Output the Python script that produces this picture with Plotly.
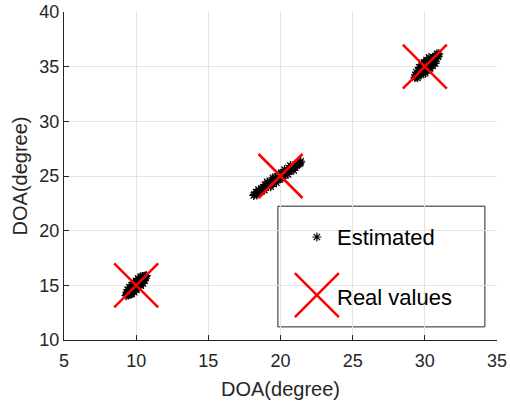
import plotly.graph_objects as go

# Estimated DOA pairs (x = DOA 1, y = DOA 2)
est1_x = [9.36, 9.46, 9.37, 9.58, 9.48, 9.57, 9.48, 9.70, 9.61, 9.82, 9.74, 9.69, 9.86, 9.83, 9.98,
          9.80, 9.99, 9.94, 10.08, 10.04, 9.98, 10.17, 10.11, 10.30, 10.15, 10.29, 10.19, 10.41, 10.35,
          10.51, 10.39, 10.52, 10.44, 10.62, 10.59, 10.66, 9.30, 9.42, 9.55, 9.62, 9.90, 10.22, 10.47,
          10.70, 9.75, 10.02, 10.25, 10.55,
          9.87, 9.53, 10.02, 9.68, 10.17, 9.83, 10.32, 9.98, 10.47, 10.13, 9.68, 9.42, 10.58, 10.32]
est1_y = [14.15, 14.12, 14.35, 14.16, 14.40, 14.37, 14.59, 14.40, 14.61, 14.44, 14.65, 14.81, 14.69,
          14.83, 14.72, 15.06, 14.90, 15.08, 14.89, 15.05, 15.23, 15.07, 15.25, 15.11, 15.40, 15.32,
          15.54, 15.35, 15.53, 15.42, 15.68, 15.60, 15.81, 15.67, 15.82, 15.82, 14.05, 14.22, 14.25,
          14.50, 14.95, 15.17, 15.55, 15.90, 14.52, 14.82, 15.45, 15.75,
          14.38, 14.82, 14.58, 15.02, 14.78, 15.22, 14.98, 15.42, 15.18, 15.62, 14.22, 14.58, 15.42, 15.78]

est2_x = [18.20, 18.36, 18.30, 18.47, 18.48, 18.65, 18.68, 18.88, 18.81, 18.97, 18.92, 19.16, 19.18,
          19.29, 19.29, 19.47, 19.50, 19.50, 19.68, 19.62, 19.85, 19.83, 20.02, 19.96, 20.12, 20.08,
          20.30, 20.33, 20.46, 20.45, 20.62, 20.57, 20.79, 20.83, 21.01, 21.01, 21.17, 21.22, 21.37,
          21.40, 18.15, 18.55, 19.05, 19.40, 19.95, 20.20, 20.70, 21.10, 21.30, 18.80,
          19.32, 19.08, 19.72, 19.48, 20.12, 19.88, 20.52, 20.28, 20.92, 20.68]
est2_y = [23.30, 23.27, 23.53, 23.48, 23.76, 23.58, 23.80, 23.71, 23.98, 23.97, 24.20, 24.04, 24.28,
          24.21, 24.50, 24.29, 24.52, 24.66, 24.60, 24.86, 24.71, 24.89, 24.81, 25.06, 25.05, 25.27,
          25.13, 25.35, 25.24, 25.55, 25.51, 25.75, 25.62, 25.84, 25.78, 26.05, 26.04, 26.22, 26.21,
          26.35, 23.22, 23.65, 24.10, 24.40, 24.95, 25.20, 25.65, 25.95, 26.10, 23.90,
          24.02, 24.46, 24.39, 24.83, 24.77, 25.21, 25.14, 25.58, 25.52, 25.96]

est3_x = [29.32, 29.48, 29.35, 29.53, 29.42, 29.73, 29.64, 29.89, 29.69, 29.90, 29.76, 30.06, 29.99,
          30.23, 30.06, 30.23, 30.11, 30.43, 30.34, 30.60, 30.40, 30.62, 30.57, 30.82, 30.74, 30.91,
          30.84, 30.97, 29.40, 29.60, 29.80, 29.95, 30.15, 30.30, 30.50, 30.70, 30.90, 29.55, 30.05, 30.65,
          30.03, 29.61, 30.20, 29.78, 30.37, 29.95, 30.54, 30.12, 30.71, 30.29]
est3_y = [34.00, 33.98, 34.23, 34.17, 34.49, 34.24, 34.51, 34.37, 34.73, 34.62, 34.97, 34.76, 35.01,
          34.86, 35.25, 35.14, 35.44, 35.21, 35.51, 35.32, 35.74, 35.62, 35.87, 35.70, 35.96, 35.92,
          36.18, 36.17, 34.10, 34.35, 34.55, 34.85, 35.00, 35.30, 35.50, 35.80, 36.05, 34.60, 35.35, 35.45,
          34.40, 34.94, 34.63, 35.17, 34.85, 35.39, 35.07, 35.61, 35.30, 35.84]

real_x = [10, 20, 30]
real_y = [15, 25, 35]

x_ticks = [5, 10, 15, 20, 25, 30, 35]
y_ticks = [10, 15, 20, 25, 30, 35, 40]

legend_labels = ["Estimated", "Real values"]

FONT = "Liberation Sans, Arial, Helvetica, sans-serif"
AX = "#262626"
STAR = dict(symbol="asterisk-open", size=7.5, color="black", line=dict(color="black", width=1.2))
CROSS = dict(symbol="x-thin-open", size=44, color="#ff0000", line=dict(color="#ff0000", width=2.5))

est_x = est1_x + est2_x + est3_x
est_y = est1_y + est2_y + est3_y

fig = go.Figure()
fig.add_trace(go.Scatter(x=est_x, y=est_y, mode="markers", name=legend_labels[0],
                         showlegend=False, marker=STAR))
fig.add_trace(go.Scatter(x=real_x, y=real_y, mode="markers", name=legend_labels[1],
                         showlegend=False, marker=CROSS))

# legend samples on an overlay axis spanning the plot area (0..1)
fig.add_trace(go.Scatter(x=[0.584], y=[0.314], mode="markers", showlegend=False,
                         xaxis="x2", yaxis="y2", marker=STAR, hoverinfo="skip"))
fig.add_trace(go.Scatter(x=[0.584], y=[0.137], mode="markers", showlegend=False,
                         xaxis="x2", yaxis="y2", marker=CROSS, hoverinfo="skip"))

axis_common = dict(
    showline=True, linecolor=AX, linewidth=1,
    ticks="inside", ticklen=5, tickcolor=AX, tickwidth=1,
    showgrid=True, gridcolor="#e3e3e3", gridwidth=1, automargin=False,
    zeroline=False, tickfont=dict(family=FONT, size=18, color=AX),
)

fig.update_layout(
    width=510, height=404,
    margin=dict(l=64, r=13, t=12, b=64),
    paper_bgcolor="white", plot_bgcolor="white",
    xaxis=dict(range=[5, 35], tickvals=x_ticks, ticktext=[str(v) for v in x_ticks],
               ticklabelstandoff=4,
               title=dict(text="DOA(degree)", font=dict(family=FONT, size=20, color=AX), standoff=12),
               **axis_common),
    yaxis=dict(range=[10, 40], tickvals=y_ticks, ticktext=[str(v) for v in y_ticks],
               title=dict(text="DOA(degree)", font=dict(family=FONT, size=20, color=AX), standoff=6),
               **axis_common),
    xaxis2=dict(range=[0, 1], overlaying="x", visible=False),
    yaxis2=dict(range=[0, 1], overlaying="y", visible=False),
    shapes=[dict(type="rect", xref="paper", yref="paper", x0=0.494, x1=0.972, y0=0.040, y1=0.408,
                 line=dict(color=AX, width=1), fillcolor="white", layer="between")],
    annotations=[
        dict(text=legend_labels[0], xref="paper", yref="paper", x=0.625, y=0.314,
             xanchor="left", yanchor="middle", showarrow=False,
             font=dict(family=FONT, size=22, color="black")),
        dict(text=legend_labels[1], xref="paper", yref="paper", x=0.625, y=0.131,
             xanchor="left", yanchor="middle", showarrow=False,
             font=dict(family=FONT, size=22, color="black")),
    ],
)

fig.write_html("out.html")
